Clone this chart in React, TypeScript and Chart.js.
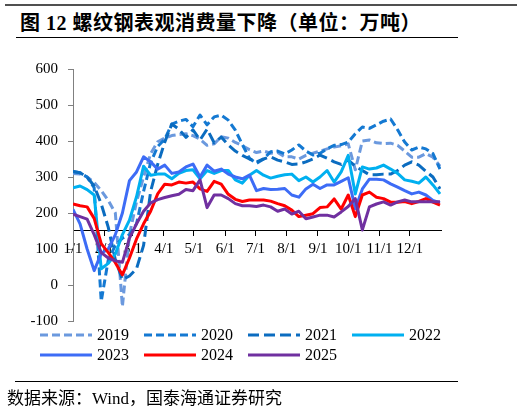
import React, { useEffect, useRef } from "react";
import { Chart, registerables } from "chart.js";

Chart.register(...registerables);

// x positions: weekly points expressed in days since 1/1
const WEEK_DAYS: number[] = Array.from({ length: 53 }, (_, i) => i * 7);
const MONTH_DAYS = [0, 31, 59, 90, 120, 151, 181, 212, 243, 273, 304, 334];
const MONTH_LABELS = ["1/1", "2/1", "3/1", "4/1", "5/1", "6/1", "7/1", "8/1", "9/1", "10/1", "11/1", "12/1"];
const Y_TICKS = [-100, 0, 100, 200, 300, 400, 500, 600];

const S2019 = [310, 308, 300, 285, 262, 235, 200, -60, 140, 231, 300, 365, 398, 408, 415, 418, 420, 415, 405, 388, 392, 412, 408, 396, 387, 376, 368, 372, 366, 368, 356, 356, 350, 360, 366, 372, 378, 383, 387, 392, 320, 400, 403, 395, 393, 394, 388, 372, 355, 355, 365, 355, 330];
const S2020 = [315, 312, 300, 270, -45, 70, 110, 130, 140, 170, 260, 340, 385, 405, 447, 455, 460, 440, 472, 445, 467, 472, 458, 430, 390, 352, 338, 350, 370, 372, 364, 375, 389, 372, 361, 366, 378, 388, 390, 397, 420, 439, 435, 445, 455, 461, 431, 397, 375, 383, 378, 365, 322];
const S2021 = [315, 312, 300, 275, 225, 160, 70, 15, 25, 45, 110, 260, 335, 397, 447, 433, 410, 431, 403, 433, 395, 411, 389, 372, 360, 350, 342, 350, 356, 347, 342, 335, 336, 342, 350, 361, 352, 342, 335, 347, 330, 318, 306, 306, 308, 308, 318, 333, 342, 333, 316, 300, 267];
const S2022 = [270, 275, 265, 250, 45, 60, 86, 140, 180, 245, 330, 305, 308, 308, 295, 310, 318, 320, 295, 318, 310, 318, 318, 292, 283, 305, 318, 305, 297, 302, 306, 308, 290, 300, 286, 300, 318, 286, 314, 360, 253, 328, 322, 325, 333, 322, 310, 292, 288, 283, 300, 278, 253];
const S2023 = [210, 170, 100, 40, 88, 100, 140, 200, 290, 314, 356, 342, 322, 333, 310, 314, 328, 336, 300, 333, 316, 322, 308, 300, 295, 305, 262, 268, 265, 266, 268, 250, 244, 267, 280, 268, 278, 278, 288, 298, 212, 267, 294, 294, 292, 281, 272, 262, 253, 258, 250, 235, 228];
const S2024 = [225, 220, 217, 185, 115, 90, 62, 28, 75, 128, 170, 205, 253, 280, 278, 286, 283, 286, 267, 260, 288, 280, 252, 238, 232, 236, 236, 236, 233, 226, 220, 208, 190, 194, 198, 215, 217, 239, 211, 250, 190, 250, 258, 244, 240, 230, 230, 232, 226, 232, 240, 230, 222];
const S2025 = [197, 190, 183, 140, 90, 75, 67, 63, 130, 170, 205, 228, 237, 243, 248, 252, 265, 262, 292, 215, 250, 250, 240, 226, 220, 220, 218, 222, 217, 205, 211, 197, 205, 184, 189, 194, 194, 189, 203, 218, 240, 153, 217, 225, 231, 222, 231, 236, 231, 231, 231, 231, 231];

const SERIES_NAMES = ["2019", "2020", "2021", "2022", "2023", "2024", "2025"];
const SERIES_VALUES = [S2019, S2020, S2021, S2022, S2023, S2024, S2025];
const SERIES_COLORS = ["#6b99de", "#1479d2", "#0b6cc0", "#00b0f0", "#3d6cf6", "#ff0000", "#7030a0"];
const SERIES_DASH: number[][] = [[8, 4], [8, 4], [11, 5], [], [], [], []];

const SERIF = '"Liberation Serif", "Times New Roman", serif';
const MIXED = '"Liberation Serif", "Noto Sans CJK SC", serif';

export default function App() {
  const ref = useRef<HTMLCanvasElement | null>(null);

  useEffect(() => {
    const canvas = ref.current;
    if (!canvas) return;
    const chart = new Chart(canvas, {
      type: "line",
      data: {
        datasets: SERIES_VALUES.map((vals, k) => ({
          label: SERIES_NAMES[k],
          data: vals.map((v, i) => ({ x: WEEK_DAYS[i], y: v })),
          borderColor: SERIES_COLORS[k],
          backgroundColor: SERIES_COLORS[k],
          borderWidth: 3,
          borderDash: SERIES_DASH[k],
          borderJoinStyle: "round",
          pointRadius: 0,
          pointHoverRadius: 0,
          tension: 0,
          fill: false,
          order: SERIES_VALUES.length - k,
        })),
      },
      options: {
        animation: false,
        responsive: false,
        events: [],
        layout: { padding: { left: 0, right: 83, top: 17, bottom: 11 } },
        plugins: {
          legend: { display: false },
          tooltip: { enabled: false },
          title: { display: false },
        },
        scales: {
          x: {
            type: "linear",
            min: 0,
            max: 365,
            position: { y: 150 },
            afterFit: (s: any) => {
              s.height = 0;
            },
            afterBuildTicks: (s: any) => {
              s.ticks = MONTH_DAYS.map((v) => ({ value: v }));
            },
            ticks: {
              autoSkip: false,
              maxRotation: 0,
              minRotation: 0,
              padding: 4,
              color: "#000",
              font: { family: SERIF, size: 15 },
              callback: (v: any) => MONTH_LABELS[MONTH_DAYS.indexOf(Number(v))] ?? "",
            },
            grid: {
              display: true,
              drawOnChartArea: false,
              drawTicks: true,
              tickLength: 5,
              color: "#000",
              lineWidth: 1,
            },
            border: { display: true, color: "#000", width: 1 },
          },
          y: {
            type: "linear",
            min: -100,
            max: 600,
            position: "left",
            afterFit: (s: any) => {
              s.width = 73;
            },
            afterBuildTicks: (s: any) => {
              s.ticks = Y_TICKS.map((v) => ({ value: v }));
            },
            ticks: {
              padding: 10,
              color: "#000",
              font: { family: SERIF, size: 15 },
            },
            grid: {
              display: true,
              drawOnChartArea: false,
              drawTicks: true,
              tickLength: 5,
              color: "#808080",
              lineWidth: 1,
            },
            border: { display: true, color: "#808080", width: 1 },
          },
        },
      },
    } as any);
    return () => {
      chart.destroy();
    };
  }, []);

  return (
    <div style={{ position: "absolute", left: 0, top: 0, width: 524, height: 412, background: "#fff", overflow: "hidden" }}>
      <div style={{ position: "absolute", left: 5, top: 4, width: 512, height: 2, background: "#505050" }} />
      <div
        style={{
          position: "absolute",
          left: 20,
          top: 12,
          fontFamily: MIXED,
          fontWeight: "bold",
          fontSize: 20,
          lineHeight: "22px",
          whiteSpace: "nowrap",
          color: "#000",
          letterSpacing: "0.5px",
        }}
      >
        图 12 螺纹钢表观消费量下降（单位：万吨）
      </div>
      <div style={{ position: "absolute", left: 16, top: 37, width: 442, height: 1, background: "#000" }} />
      <canvas
        ref={ref}
        width={524}
        height={290}
        style={{ position: "absolute", left: 0, top: 50, width: 524, height: 290 }}
      />
      {SERIES_NAMES.map((name, k) => {
        const row = k < 4 ? 0 : 1;
        const col = k < 4 ? k : k - 4;
        const left = 40 + 104 * col;
        const cy = row === 0 ? 335 : 355;
        return (
          <div key={name} style={{ position: "absolute", left, top: cy - 9, height: 18, width: 100 }}>
            <svg width={52} height={6} style={{ position: "absolute", left: 0, top: 6 }}>
              <line
                x1={0}
                y1={3}
                x2={52}
                y2={3}
                stroke={SERIES_COLORS[k]}
                strokeWidth={3}
                strokeDasharray={SERIES_DASH[k].length ? SERIES_DASH[k].join(" ") : undefined}
              />
            </svg>
            <span
              style={{
                position: "absolute",
                left: 57,
                top: 0,
                fontFamily: SERIF,
                fontSize: 16,
                lineHeight: "18px",
                color: "#000",
                whiteSpace: "nowrap",
              }}
            >
              {name}
            </span>
          </div>
        );
      })}
      <div style={{ position: "absolute", left: 15, top: 381, width: 443, height: 1, background: "#000" }} />
      <div
        style={{
          position: "absolute",
          left: 7,
          top: 389,
          fontFamily: MIXED,
          fontSize: 17,
          lineHeight: "19px",
          whiteSpace: "nowrap",
          color: "#000",
        }}
      >
        数据来源：Wind，国泰海通证券研究
      </div>
    </div>
  );
}
